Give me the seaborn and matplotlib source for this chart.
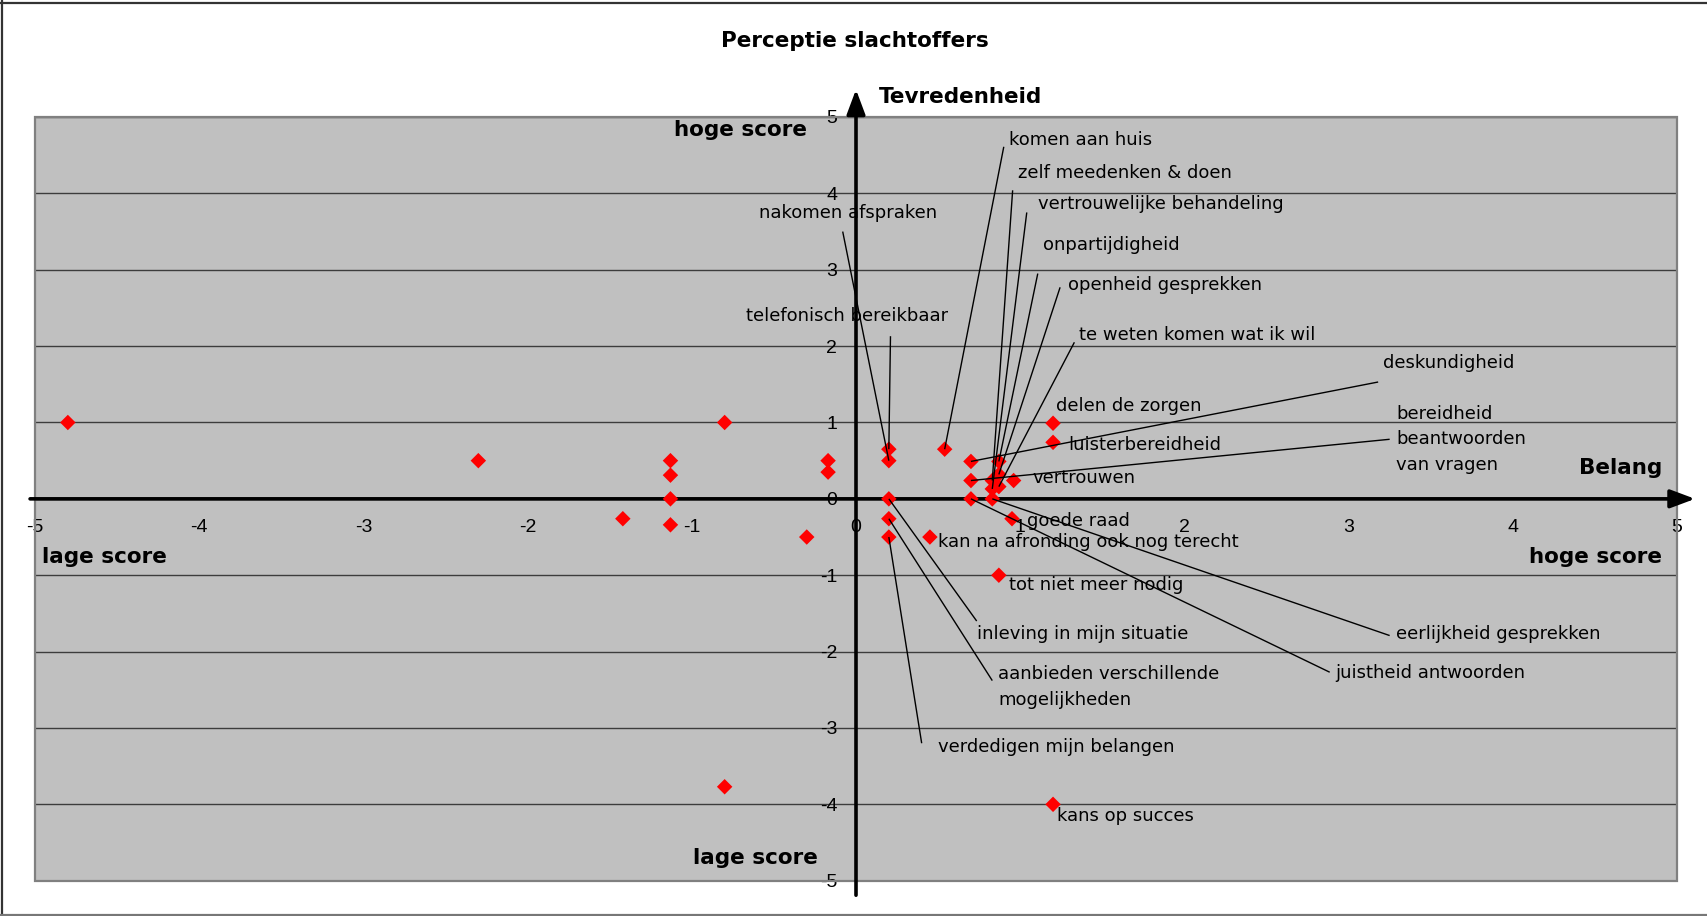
import matplotlib
matplotlib.use("Agg")
import matplotlib.pyplot as plt
import seaborn as sns
import pandas as pd
from matplotlib.lines import Line2D
from matplotlib.patches import Rectangle

# Scores per aspect: belang (importance) vs tevredenheid (satisfaction)
labels = [
    "nakomen afspraken",
    "telefonisch bereikbaar",
    "komen aan huis",
    "zelf meedenken & doen",
    "vertrouwelijke behandeling",
    "onpartijdigheid",
    "openheid gesprekken",
    "te weten komen wat ik wil",
    "deskundigheid",
    "delen de zorgen",
    "luisterbereidheid",
    "bereidheid\nbeantwoorden\nvan vragen",
    "vertrouwen",
    "goede raad",
    "kan na afronding ook nog terecht",
    "tot niet meer nodig",
    "inleving in mijn situatie",
    "eerlijkheid gesprekken",
    "juistheid antwoorden",
    "aanbieden verschillende\nmogelijkheden",
    "verdedigen mijn belangen",
    "kans op succes",
    "", "", "", "", "", "", "", "", "", "", "", "",
]
belang = [
    0.20, 0.20, 0.54, 0.83, 0.83, 0.87, 0.87, 0.87, 0.70, 1.20, 1.20,
    0.70, 0.96, 0.95, 0.45, 0.87, 0.20, 0.83, 0.70, 0.20, 0.20, 1.20,
    -4.80, -0.80, -2.30, -1.13, -1.13, -1.13, -1.42, -1.13, -0.17, -0.17,
    -0.30, -0.80,
]
tevredenheid = [
    0.50, 0.65, 0.65, 0.24, 0.13, 0.49, 0.32, 0.16, 0.49, 0.99, 0.74,
    0.24, 0.24, -0.26, -0.50, -1.00, 0.00, 0.00, 0.00, -0.26, -0.50, -4.00,
    1.00, 1.00, 0.50, 0.50, 0.31, 0.00, -0.26, -0.34, 0.50, 0.35,
    -0.50, -3.77,
]
ticks = [-5, -4, -3, -2, -1, 0, 1, 2, 3, 4, 5]

df = pd.DataFrame({"label": labels, "belang": belang, "tevredenheid": tevredenheid})

# Label placement (left edge, vertical centre) in data units
label_pos = {
    "nakomen afspraken": (-0.593, 3.74),
    "telefonisch bereikbaar": (-0.67, 2.39),
    "komen aan huis": (0.93, 4.70),
    "zelf meedenken & doen": (0.985, 4.27),
    "vertrouwelijke behandeling": (1.107, 3.86),
    "onpartijdigheid": (1.137, 3.32),
    "openheid gesprekken": (1.29, 2.80),
    "te weten komen wat ik wil": (1.36, 2.15),
    "deskundigheid": (3.21, 1.78),
    "bereidheid\nbeantwoorden\nvan vragen": (3.29, 0.78),
    "delen de zorgen": (1.22, 1.22),
    "luisterbereidheid": (1.29, 0.70),
    "vertrouwen": (1.076, 0.27),
    "goede raad": (1.04, -0.29),
    "kan na afronding ook nog terecht": (0.50, -0.56),
    "tot niet meer nodig": (0.93, -1.13),
    "inleving in mijn situatie": (0.735, -1.77),
    "aanbieden verschillende\nmogelijkheden": (0.867, -2.46),
    "verdedigen mijn belangen": (0.50, -3.25),
    "kans op succes": (1.226, -4.15),
    "eerlijkheid gesprekken": (3.29, -1.77),
    "juistheid antwoorden": (2.92, -2.28),
}
# Where leader lines leave their labels
leader_start = {
    "nakomen afspraken": (-0.081, 3.50),
    "telefonisch bereikbaar": (0.21, 2.13),
    "komen aan huis": (0.90, 4.61),
    "zelf meedenken & doen": (0.954, 4.04),
    "vertrouwelijke behandeling": (1.04, 3.75),
    "onpartijdigheid": (1.107, 2.95),
    "openheid gesprekken": (1.243, 2.77),
    "te weten komen wat ik wil": (1.33, 2.05),
    "deskundigheid": (3.18, 1.53),
    "bereidheid\nbeantwoorden\nvan vragen": (3.25, 0.78),
    "inleving in mijn situatie": (0.735, -1.60),
    "aanbieden verschillende\nmogelijkheden": (0.83, -2.38),
    "verdedigen mijn belangen": (0.40, -3.20),
    "eerlijkheid gesprekken": (3.25, -1.79),
    "juistheid antwoorden": (2.885, -2.27),
}

sns.set_style("white")
plt.rcParams["font.family"] = ["Liberation Sans Narrow", "Liberation Sans", "DejaVu Sans"]
plt.rcParams["axes.unicode_minus"] = False
plt.rcParams["text.color"] = "black"

W, H = 1707, 916
fig = plt.figure(figsize=(W / 100, H / 100), dpi=100)
fig.patch.set_facecolor("white")
ax = fig.add_axes([35 / W, 1 - 880.7 / H, (1677 - 35) / W, (880.7 - 117) / H])
ax.set_facecolor("#c0c0c0")
ax.set_xlim(-5, 5)
ax.set_ylim(-5, 5)

sns.scatterplot(data=df, x="belang", y="tevredenheid", marker="D", s=62,
                color="#ff0000", edgecolor="none", linewidth=0, ax=ax,
                legend=False, zorder=3)
ax.set_xlabel("")
ax.set_ylabel("")

# Axes crossing at the origin
for side in ["left", "bottom"]:
    ax.spines[side].set_position("zero")
for side in ax.spines:
    ax.spines[side].set_color("none")
ax.add_patch(Rectangle((0, 0), 1, 1, transform=ax.transAxes, fill=False,
                       edgecolor="#808080", lw=1.6, zorder=1, clip_on=False))

ax.set_xticks(ticks)
ax.set_yticks(ticks)
ax.tick_params(axis="x", direction="out", length=4.5, width=1, pad=10,
               labelsize=14, colors="black")
ax.tick_params(axis="y", direction="out", length=5.5, width=1, pad=8,
               labelsize=14, colors="black")
ax.yaxis.grid(True, color="#3c3c3c", lw=1.0)
ax.xaxis.grid(False)
ax.set_axisbelow(True)

arrow = dict(arrowstyle="-|>,head_length=0.75,head_width=0.28", color="black",
             lw=2.6, shrinkA=0, shrinkB=0, mutation_scale=20)
ax.annotate("", xy=(0, 5.36), xytext=(0, -5.19), arrowprops=arrow,
            annotation_clip=False, zorder=2.5)
ax.annotate("", xy=(5.11, 0), xytext=(-5.03, 0), arrowprops=arrow,
            annotation_clip=False, zorder=2.5)

# Leader lines and point labels
for lab, bx, ty in zip(labels, belang, tevredenheid):
    if not lab:
        continue
    if lab in leader_start:
        sx, sy = leader_start[lab]
        ax.plot([sx, bx], [sy, ty], color="black", lw=1.0, zorder=4,
                solid_capstyle="butt")
    lx, ly = label_pos[lab]
    ax.text(lx, ly, lab, ha="left", va="center", fontsize=13, color="black",
            family="DejaVu Sans", linespacing=1.55, zorder=6, clip_on=False)

bold = dict(fontsize=15.5, fontweight="bold", family="DejaVu Sans", va="center",
            color="black", clip_on=False, zorder=6)
ax.text(0.14, 5.26, "Tevredenheid", ha="left", **bold)
ax.text(4.91, 0.41, "Belang", ha="right", **bold)
ax.text(-0.30, 4.83, "hoge score", ha="right", **bold)
ax.text(-4.96, -0.755, "lage score", ha="left", **bold)
ax.text(4.91, -0.755, "hoge score", ha="right", **bold)
ax.text(-0.23, -4.70, "lage score", ha="right", **bold)

fig.text(855 / W, 1 - 41 / H, "Perceptie slachtoffers", ha="center",
         va="center", fontsize=15.5, fontweight="bold", family="DejaVu Sans",
         color="black")

# Chart frame
fig.add_artist(Line2D([0, 1], [1 - 2.5 / H] * 2, color="#333333", lw=1.6))
fig.add_artist(Line2D([1.5 / W] * 2, [0, 1], color="#333333", lw=1.6))
fig.add_artist(Line2D([0, 1], [1.5 / H] * 2, color="#777777", lw=1.6))

fig.savefig("out.png", dpi=100)
